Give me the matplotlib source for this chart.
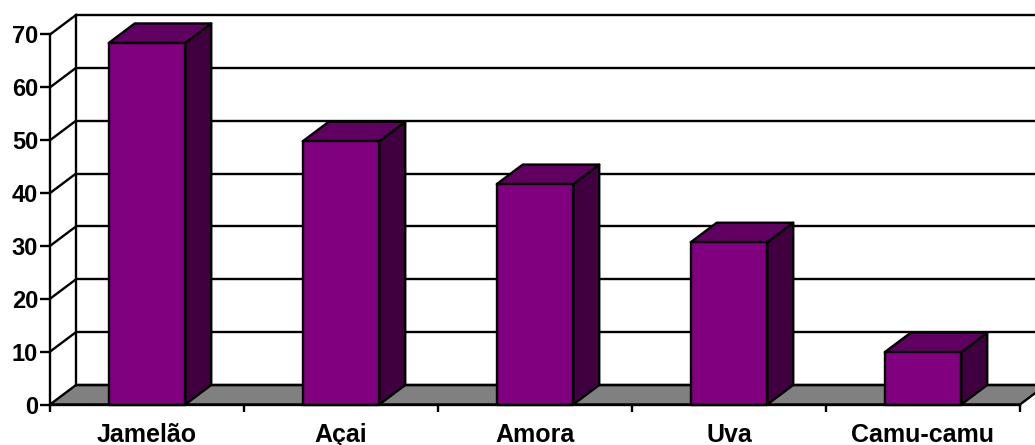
import matplotlib
matplotlib.use('Agg')
import matplotlib.pyplot as plt
from matplotlib.patches import Polygon

categories = ['Jamelão', 'Açai', 'Amora', 'Uva', 'Camu-camu']
values = [68.4, 49.8, 41.7, 30.7, 9.9]
yticks = [0, 10, 20, 30, 40, 50, 60, 70]

W, H = 1035, 445
LEFT, RIGHT, TOP, BOTTOM = 50, 1020, 34.5, 404.5

plt.rcParams['font.family'] = ['Liberation Sans', 'DejaVu Sans']

fig = plt.figure(figsize=(W / 100, H / 100), dpi=100)
ax = fig.add_axes([LEFT / W, 1 - BOTTOM / H, (RIGHT - LEFT) / W, (BOTTOM - TOP) / H])
ax.set_xlim(0, len(categories))
ax.set_ylim(0, 70)
ax.patch.set_visible(False)

# depth of the fake 3d, in data units
dx = 26 / 194
dy = 19.5 / 5.286
lw = 1.7
ymax = yticks[-1]
n = len(categories)


def poly(pts, color, z):
    ax.add_patch(Polygon(pts, closed=True, facecolor=color, edgecolor='black',
                         linewidth=lw, joinstyle='round', zorder=z, clip_on=False))


## floor
poly([(0, 0), (n, 0), (n + dx, dy), (dx, dy)], '#808080', 1)

## walls and gridlines
for v in yticks:
    ax.plot([dx, n + dx], [v + dy, v + dy], color='black', lw=lw, zorder=1.5, clip_on=False,
            solid_capstyle='butt')
    if v > 0:
        ax.plot([0, dx], [v, v + dy], color='black', lw=lw, zorder=1.5, clip_on=False)
ax.plot([dx, dx], [dy, ymax + dy], color='black', lw=lw, zorder=1.5, clip_on=False)

## bars
width = 76.5 / 194
for i, val in enumerate(values):
    x0 = i + 0.5 - width / 2
    x1 = x0 + width
    poly([(x1, 0), (x1 + dx, dy), (x1 + dx, val + dy), (x1, val)], '#400040', 3)
    poly([(x0, val), (x1, val), (x1 + dx, val + dy), (x0 + dx, val + dy)], '#600060', 3)
    poly([(x0, 0), (x1, 0), (x1, val), (x0, val)], '#800080', 4)

## axes
for s in ['top', 'right']:
    ax.spines[s].set_visible(False)
for s in ['left', 'bottom']:
    ax.spines[s].set_linewidth(lw)
    ax.spines[s].set_zorder(5)

ax.set_yticks(yticks)
ax.tick_params(axis='y', length=7, width=lw, pad=1.5, labelsize=17)
for t in ax.get_yticklabels():
    t.set_fontweight('bold')

ax.set_xticks(range(n + 1))
ax.set_xticklabels([])
ax.set_xticks([i + 0.5 for i in range(n)], minor=True)
ax.set_xticklabels(categories, minor=True, fontsize=18, fontweight='bold')
ax.tick_params(axis='x', which='major', length=5, width=lw)
ax.tick_params(axis='x', which='minor', length=0, pad=13)

fig.savefig('out.png', dpi=100)
